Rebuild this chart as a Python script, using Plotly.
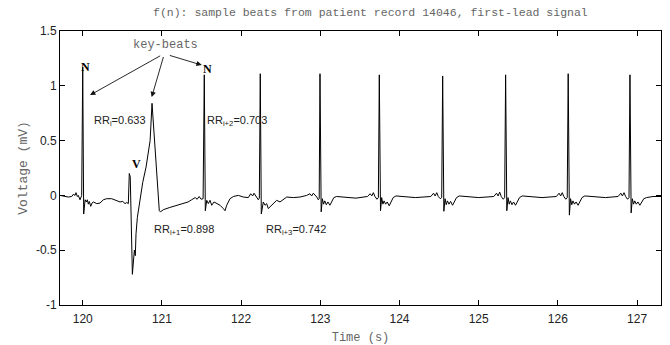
import plotly.graph_objects as go

# ---- data (time in s, voltage in mV) ----
t_pre = [119.713, 119.776, 119.818, 119.861, 119.881, 119.903, 119.915, 119.932, 119.944, 119.966, 119.987]
v_pre = [0.00, -0.01, -0.015, -0.01, 0.01, 0.00, 0.025, -0.01, 0.00, -0.04, 0.00]

t_n1 = [120.000, 120.012, 120.030, 120.045, 120.058, 120.071, 120.083, 120.101, 120.117, 120.134, 120.177,
        120.218, 120.260, 120.303, 120.366, 120.430, 120.471, 120.505, 120.534, 120.556, 120.576]
v_n1 = [1.17, -0.17, -0.04, -0.06, -0.04, -0.08, -0.055, -0.10, -0.07, -0.06, -0.075,
        -0.07, -0.04, -0.03, -0.03, -0.045, -0.06, -0.055, -0.075, -0.065, -0.075]

t_v = [120.588, 120.600, 120.627, 120.639, 120.652, 120.664, 120.673, 120.690, 120.724, 120.758, 120.800,
       120.828, 120.851, 120.875, 120.904, 120.967, 120.980, 121.020, 121.100, 121.230, 121.330, 121.375,
       121.420, 121.445, 121.470, 121.495, 121.520]
v_v = [0.20, 0.17, -0.72, -0.60, -0.50, -0.55, -0.35, -0.20, -0.015, 0.12, 0.26,
       0.38, 0.50, 0.84, 0.50, -0.14, -0.15, -0.13, -0.11, -0.085, -0.06, -0.04,
       -0.02, -0.035, -0.01, -0.035, -0.03]

t_n2 = [121.535, 121.548, 121.566, 121.586, 121.607, 121.629, 121.658, 121.692, 121.734, 121.775, 121.797,
        121.818, 121.860, 121.902, 121.965, 122.028, 122.091, 122.121, 122.146, 122.163, 122.197, 122.217, 122.230]
v_n2 = [1.10, -0.14, -0.045, -0.075, -0.045, -0.09, -0.06, -0.075, -0.09, -0.12, -0.14,
        -0.09, -0.03, -0.01, 0.00, -0.015, -0.02, 0.015, -0.005, 0.02, -0.015, -0.04, -0.025]

t_n3 = [122.242, 122.255, 122.280, 122.302, 122.323, 122.343, 122.386, 122.449, 122.491, 122.533, 122.576,
        122.659, 122.744, 122.828, 122.870, 122.891, 122.912, 122.955, 122.975, 122.986]
v_n3 = [1.11, -0.17, -0.06, -0.09, -0.075, -0.12, -0.09, -0.045, -0.06, -0.035, -0.015,
        -0.02, -0.015, 0.00, 0.015, -0.005, 0.02, -0.015, -0.04, -0.03]

t_n4 = [122.996, 123.011, 123.026, 123.041, 123.056, 123.076, 123.096, 123.121, 123.146, 123.171, 123.206,
        123.300, 123.450, 123.595, 123.630, 123.650, 123.670, 123.690, 123.715, 123.733]
v_n4 = [1.11, -0.15, -0.03, -0.08, -0.05, -0.085, -0.06, -0.09, -0.06, -0.02, -0.01,
        -0.015, -0.025, -0.01, 0.015, -0.005, 0.025, -0.01, -0.035, -0.02]

t_n5 = [123.745, 123.760, 123.775, 123.790, 123.805, 123.825, 123.845, 123.870, 123.895, 123.920, 123.955,
        124.050, 124.200, 124.395, 124.430, 124.450, 124.470, 124.490, 124.515, 124.533]
v_n5 = [1.10, -0.14, -0.02, -0.08, -0.05, -0.08, -0.06, -0.095, -0.06, -0.02, -0.005,
        -0.01, -0.02, -0.01, 0.02, -0.005, 0.025, -0.01, -0.03, -0.02]

t_n6 = [124.545, 124.560, 124.575, 124.590, 124.605, 124.625, 124.645, 124.670, 124.695, 124.720, 124.755,
        124.850, 125.000, 125.190, 125.225, 125.245, 125.265, 125.285, 125.310, 125.328]
v_n6 = [1.09, -0.145, -0.03, -0.085, -0.05, -0.08, -0.055, -0.09, -0.06, -0.02, -0.005,
        -0.01, -0.02, -0.01, 0.02, -0.005, 0.03, -0.01, -0.035, -0.02]

t_n7 = [125.340, 125.355, 125.370, 125.385, 125.400, 125.420, 125.440, 125.465, 125.490, 125.515, 125.550,
        125.650, 125.800, 125.980, 126.015, 126.035, 126.055, 126.075, 126.100, 126.118]
v_n7 = [1.10, -0.14, -0.02, -0.08, -0.05, -0.085, -0.06, -0.09, -0.06, -0.02, -0.005,
        -0.01, -0.02, -0.01, 0.02, -0.005, 0.025, -0.01, -0.035, -0.02]

t_n8 = [126.130, 126.145, 126.160, 126.175, 126.190, 126.210, 126.230, 126.255, 126.280, 126.305, 126.340,
        126.440, 126.600, 126.760, 126.795, 126.815, 126.835, 126.855, 126.880, 126.898]
v_n8 = [1.11, -0.18, -0.03, -0.085, -0.05, -0.08, -0.06, -0.09, -0.06, -0.02, -0.005,
        -0.01, -0.02, -0.01, 0.02, -0.005, 0.025, -0.01, -0.035, -0.02]

t_n9 = [126.910, 126.925, 126.940, 126.955, 126.970, 126.990, 127.010, 127.035, 127.060, 127.085, 127.120,
        127.200, 127.305]
v_n9 = [1.10, -0.16, -0.03, -0.08, -0.05, -0.08, -0.06, -0.09, -0.06, -0.03, -0.02,
        -0.01, -0.01]

rr_labels = ["RR<sub>i</sub>=0.633", "RR<sub>i+1</sub>=0.898", "RR<sub>i+2</sub>=0.703", "RR<sub>i+3</sub>=0.742"]
x_ticks = [120, 121, 122, 123, 124, 125, 126, 127]
y_ticks = [-1, -0.5, 0, 0.5, 1, 1.5]
y_ticktext = ["-1", "-0.5", "0", "0.5", "1", "1.5"]

t_all = t_pre + t_n1 + t_v + t_n2 + t_n3 + t_n4 + t_n5 + t_n6 + t_n7 + t_n8 + t_n9
v_all = v_pre + v_n1 + v_v + v_n2 + v_n3 + v_n4 + v_n5 + v_n6 + v_n7 + v_n8 + v_n9

fig = go.Figure()
fig.add_trace(go.Scatter(x=t_all, y=v_all, mode="lines",
                         line=dict(color="black", width=1), showlegend=False, hoverinfo="skip"))

mono = "Liberation Mono, Courier New, monospace"
sans = "Liberation Sans, Arial, sans-serif"
serif = "Liberation Serif, Times New Roman, serif"
gray = "#666666"

anns = []
# title (as annotation above the plot area)
anns.append(dict(xref="paper", yref="paper", x=0.516, y=1, yshift=19,
                 text="f(n): sample beats from patient record 14046, first-lead signal",
                 showarrow=False, xanchor="center", yanchor="middle",
                 font=dict(family=mono, size=11.5, color=gray)))
# RR labels
rr_pos = [(120.12, 0.68), (120.88, -0.32), (121.55, 0.68), (122.29, -0.32)]
for (xx, yy), tt in zip(rr_pos, rr_labels):
    anns.append(dict(x=xx, y=yy, text=tt, xanchor="left", yanchor="middle", showarrow=False,
                     font=dict(family=sans, size=11, color="#222222")))

# beat type labels
for (xx, yy, tt) in [(120.03, 1.17, "N"), (121.57, 1.155, "N"), (120.68, 0.29, "V")]:
    anns.append(dict(x=xx, y=yy, text=tt, showarrow=False,
                     font=dict(family=serif, size=12, color="black", weight="bold")))

# key-beats label
anns.append(dict(x=121.04, y=1.37, text="key-beats", showarrow=False,
                 font=dict(family=mono, size=12, color=gray)))

# arrows
for (hx, hy, tx, ty) in [(120.092, 0.915, 120.997, 1.281),
                         (120.871, 0.897, 121.026, 1.281),
                         (121.503, 1.189, 121.081, 1.281)]:
    anns.append(dict(x=hx, y=hy, ax=tx, ay=ty, axref="x", ayref="y", text=" ",
                     font=dict(size=1),
                     showarrow=True, arrowhead=2, arrowsize=1.2, arrowwidth=0.9, arrowcolor="#111111"))

fig.update_layout(
    width=670, height=345,
    margin=dict(l=60, r=9, t=31, b=40, autoexpand=False),
    paper_bgcolor="white", plot_bgcolor="white",
    annotations=anns,
)
fig.update_xaxes(range=[119.713, 127.302], tickvals=x_ticks, ticktext=[str(v) for v in x_ticks],
                 ticks="inside", ticklen=5, tickcolor="black", tickwidth=1,
                 showline=True, linecolor="black", linewidth=1, mirror="ticks",
                 showgrid=False, zeroline=False, automargin=False, ticklabelstandoff=3,
                 tickfont=dict(family=sans, size=12, color="#222222"),
                 title=dict(text="Time (s)", font=dict(family=mono, size=12, color=gray), standoff=7))
fig.update_yaxes(range=[-1, 1.5], tickvals=y_ticks, ticktext=y_ticktext,
                 ticks="inside", ticklen=5, tickcolor="black", tickwidth=1,
                 showline=True, linecolor="black", linewidth=1, mirror="ticks",
                 showgrid=False, zeroline=False, automargin=False,
                 tickfont=dict(family=sans, size=12, color="#222222"),
                 title=dict(text="Voltage (mV)", font=dict(family=mono, size=13, color=gray), standoff=5))

fig.write_html("out.html", config={"displayModeBar": False},
               post_script="document.body.style.margin='0px';")
